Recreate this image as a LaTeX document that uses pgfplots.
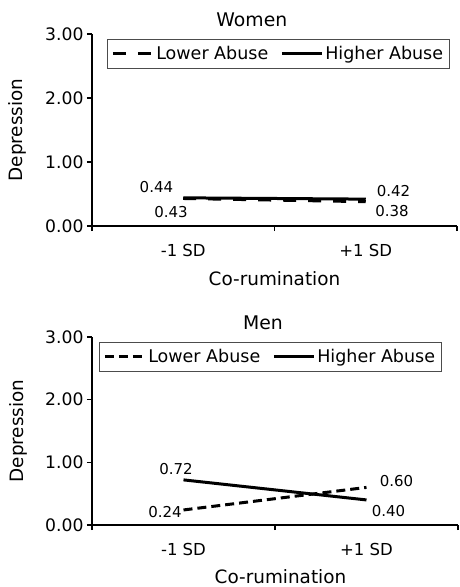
\documentclass[border=0pt]{standalone}
\usepackage{fontspec}
\setmainfont{DejaVu Sans}
\usepackage{pgfplots}
\pgfplotsset{compat=1.18}
\pgfplotsset{
  panel/.style={
    scale only axis,
    xmin=0, xmax=2, ymin=0, ymax=3,
    axis lines=left,
    axis line style={-, line width=1.8pt, black},
    tick align=outside,
    major tick length=5pt,
    tick style={black, line width=1.2pt},
    xtick={0,1,2}, xticklabels={},
    extra x ticks={0.5,1.5},
    extra x tick labels={-1 SD,+1 SD},
    extra x tick style={major tick length=0pt,
      tick label style={anchor=center, yshift=-24pt}},
    ytick={0,1,2,3},
    yticklabel style={/pgf/number format/fixed, /pgf/number format/fixed zerofill, /pgf/number format/precision=2, /pgf/number format/assume math mode=true, font=\fontsize{17.2}{19}\selectfont},
    xticklabel style={font=\fontsize{16.5}{19}\selectfont},
    label style={font=\fontsize{18.4}{22}\selectfont},
    title style={font=\fontsize{18.8}{22}\selectfont, anchor=center, yshift=-6pt},
    xlabel={Co-rumination},
    ylabel={Depression},
    legend columns=2,
    legend cell align=left,
    legend style={draw=black!70, line width=0.6pt, inner xsep=4pt, inner ysep=5pt,
      font=\fontsize{17.5}{20}\selectfont,
      /tikz/every even column/.append style={column sep=10pt}},
    legend image code/.code={\draw[#1] (0pt,0pt) -- (40pt,0pt);},
    no markers,
  }
}
\begin{document}
\begin{tikzpicture}
\path[use as bounding box] (-92pt,-361pt) rectangle (368pt,226pt);
% Women
\begin{axis}[panel, at={(0pt,0pt)}, anchor=south west,
  width=365pt, height=192pt,
  title={Women},
  title style={at={(axis description cs:0.438,1.073)}},
  xlabel style={at={(axis description cs:0.5,-0.276)}, anchor=center},
  ylabel style={at={(axis description cs:-0.203,0.5)}, anchor=center},
  legend style={at={(0.041,0.974)}, anchor=north west},
]
\addplot[black, line width=3pt, dash pattern=on 13pt off 12pt] coordinates {(0.5,0.43) (1.5,0.38)};
\addlegendentry{Lower Abuse}
\addplot[black, line width=3pt, solid] coordinates {(0.5,0.44) (1.5,0.42)};
\addlegendentry{Higher Abuse}
\node[font=\fontsize{15}{17}\selectfont] at (axis cs:0.353,0.609) {0.44};
\node[font=\fontsize{15}{17}\selectfont] at (axis cs:0.433,0.219) {0.43};
\node[font=\fontsize{15}{17}\selectfont] at (axis cs:1.652,0.547) {0.42};
\node[font=\fontsize{15}{17}\selectfont] at (axis cs:1.644,0.234) {0.38};
\end{axis}
% Men
\begin{axis}[panel, at={(0pt,-299pt)}, anchor=south west,
  width=366pt, height=188pt,
  title={Men},
  title style={at={(axis description cs:0.467,1.074)}},
  xlabel style={at={(axis description cs:0.515,-0.277)}, anchor=center},
  ylabel style={at={(axis description cs:-0.202,0.5)}, anchor=center},
  legend style={at={(0.019,0.973)}, anchor=north west},
]
\addplot[black, line width=3pt, dash pattern=on 9pt off 5pt] coordinates {(0.5,0.24) (1.5,0.60)};
\addlegendentry{Lower Abuse}
\addplot[black, line width=3pt, solid] coordinates {(0.5,0.72) (1.5,0.40)};
\addlegendentry{Higher Abuse}
\node[font=\fontsize{15}{17}\selectfont] at (axis cs:0.459,0.894) {0.72};
\node[font=\fontsize{15}{17}\selectfont] at (axis cs:0.399,0.207) {0.24};
\node[font=\fontsize{15}{17}\selectfont] at (axis cs:1.664,0.702) {0.60};
\node[font=\fontsize{15}{17}\selectfont] at (axis cs:1.620,0.223) {0.40};
\end{axis}
\end{tikzpicture}
\end{document}
